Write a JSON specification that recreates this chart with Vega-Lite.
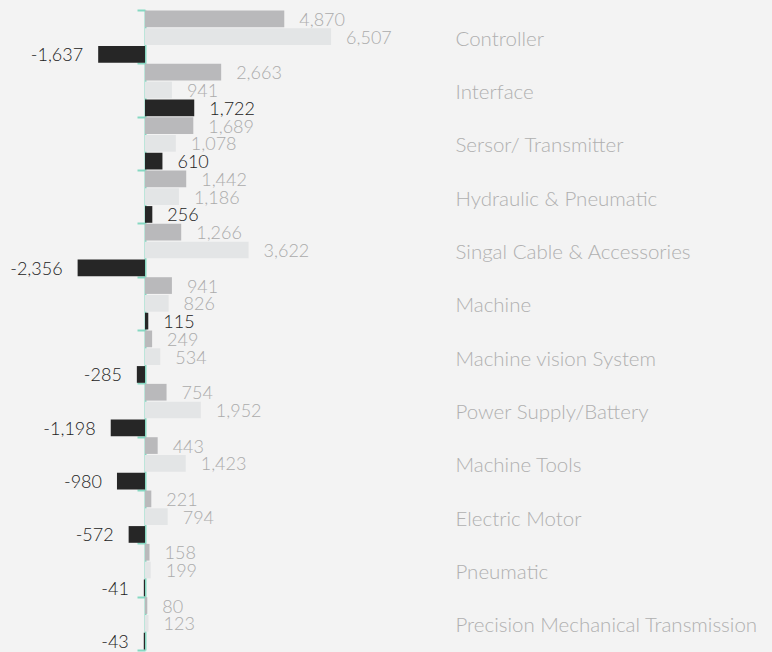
{
  "$schema": "https://vega.github.io/schema/vega-lite/v6.json",
  "autosize": {"type": "none"},
  "padding": {"left": 0, "top": 10, "right": 327, "bottom": 2},
  "width": 445,
  "height": 640,
  "background": "#f3f3f3",
  "config": {"view": {"stroke": null}, "font": "Lato"},
  "data": {"values": [
    {"category": "Controller", "series": "export", "value": 4870},
    {"category": "Controller", "series": "import", "value": 6507},
    {"category": "Controller", "series": "balance", "value": -1637},
    {"category": "Interface", "series": "export", "value": 2663},
    {"category": "Interface", "series": "import", "value": 941},
    {"category": "Interface", "series": "balance", "value": 1722},
    {"category": "Sersor/ Transmitter", "series": "export", "value": 1689},
    {"category": "Sersor/ Transmitter", "series": "import", "value": 1078},
    {"category": "Sersor/ Transmitter", "series": "balance", "value": 610},
    {"category": "Hydraulic & Pneumatic", "series": "export", "value": 1442},
    {"category": "Hydraulic & Pneumatic", "series": "import", "value": 1186},
    {"category": "Hydraulic & Pneumatic", "series": "balance", "value": 256},
    {"category": "Singal Cable & Accessories", "series": "export", "value": 1266},
    {"category": "Singal Cable & Accessories", "series": "import", "value": 3622},
    {"category": "Singal Cable & Accessories", "series": "balance", "value": -2356},
    {"category": "Machine", "series": "export", "value": 941},
    {"category": "Machine", "series": "import", "value": 826},
    {"category": "Machine", "series": "balance", "value": 115},
    {"category": "Machine vision System", "series": "export", "value": 249},
    {"category": "Machine vision System", "series": "import", "value": 534},
    {"category": "Machine vision System", "series": "balance", "value": -285},
    {"category": "Power Supply/Battery", "series": "export", "value": 754},
    {"category": "Power Supply/Battery", "series": "import", "value": 1952},
    {"category": "Power Supply/Battery", "series": "balance", "value": -1198},
    {"category": "Machine Tools", "series": "export", "value": 443},
    {"category": "Machine Tools", "series": "import", "value": 1423},
    {"category": "Machine Tools", "series": "balance", "value": -980},
    {"category": "Electric Motor", "series": "export", "value": 221},
    {"category": "Electric Motor", "series": "import", "value": 794},
    {"category": "Electric Motor", "series": "balance", "value": -572},
    {"category": "Pneumatic", "series": "export", "value": 158},
    {"category": "Pneumatic", "series": "import", "value": 199},
    {"category": "Pneumatic", "series": "balance", "value": -41},
    {"category": "Precision Mechanical Transmission", "series": "export", "value": 80},
    {"category": "Precision Mechanical Transmission", "series": "import", "value": 123},
    {"category": "Precision Mechanical Transmission", "series": "balance", "value": -43}
  ]},
  "transform": [
    {"calculate": "replace(format(datum.value, ','), '\u2212', '-')", "as": "label"}
  ],
  "layer": [
    {
      "mark": {"type": "bar"},
      "encoding": {
        "x": {"field": "value", "type": "quantitative",
          "scale": {"domain": [-5070, 10490], "nice": false, "zero": false}, "axis": null},
        "y": {"field": "category", "type": "nominal", "sort": null, "title": null,
          "scale": {"paddingInner": 0, "paddingOuter": 0},
          "axis": {"orient": "left", "offset": -145, "labels": false, "tickBand": "extent",
            "domainColor": "#86d8c2", "domainWidth": 2, "tickColor": "#86d8c2", "tickWidth": 2, "tickSize": 8, "grid": false}},
        "yOffset": {"field": "series", "type": "nominal",
          "scale": {"domain": ["export", "import", "balance"], "paddingInner": 0.06, "paddingOuter": 0.03}},
        "color": {"field": "series", "type": "nominal", "legend": null,
          "scale": {"domain": ["export", "import", "balance"], "range": ["#b9b9bb", "#e3e5e6", "#262626"]}}
      }
    },
    {
      "mark": {"type": "text", "align": "left", "baseline": "middle", "dx": 15, "dy": 2, "fontSize": 18, "fontWeight": 300},
      "transform": [{"filter": "datum.value >= 0"}],
      "encoding": {
        "x": {"field": "value", "type": "quantitative"},
        "y": {"field": "category", "type": "nominal", "sort": null, "axis": null},
        "yOffset": {"field": "series", "type": "nominal"},
        "text": {"field": "label"},
        "color": {"condition": {"test": "datum.series === 'balance'", "value": "#222222"}, "value": "#ababab"}
      }
    },
    {
      "mark": {"type": "text", "align": "right", "baseline": "middle", "dx": -15, "dy": 2, "fontSize": 18, "fontWeight": 300},
      "transform": [{"filter": "datum.value < 0"}],
      "encoding": {
        "x": {"field": "value", "type": "quantitative"},
        "y": {"field": "category", "type": "nominal", "sort": null, "axis": null},
        "yOffset": {"field": "series", "type": "nominal"},
        "text": {"field": "label"},
        "color": {"condition": {"test": "datum.series === 'balance'", "value": "#222222"}, "value": "#ababab"}
      }
    },
    {
      "mark": {"type": "text", "opacity": 0},
      "encoding": {
        "y": {"field": "category", "type": "nominal", "sort": null, "title": null,
          "axis": {"orient": "right", "domain": false, "ticks": false, "labelPadding": 10, "labelOffset": 3,
            "labelFontSize": 20.5, "labelFontWeight": 300, "labelColor": "#b0b0b0", "labelAlign": "left", "labelLimit": 400, "labelFont": "Lato"}},
        "x": {"field": "value", "type": "quantitative"},
        "text": {"value": ""}
      }
    }
  ],
  "resolve": {"axis": {"y": "independent"}}
}
